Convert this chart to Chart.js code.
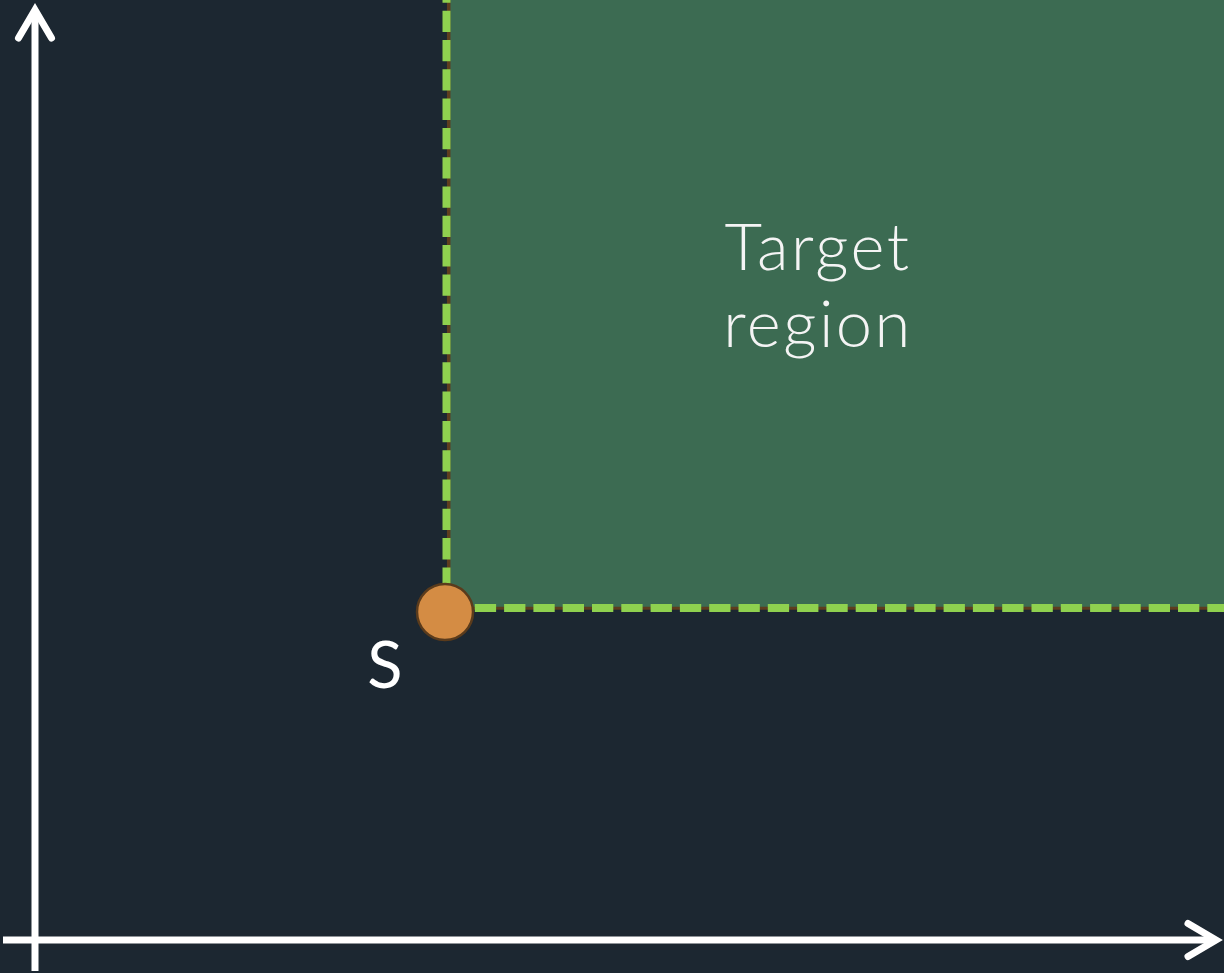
<!DOCTYPE html>
<html>
<head>
<meta charset="utf-8">
<script src="https://cdn.jsdelivr.net/npm/chart.js@4/dist/chart.umd.min.js"></script>
<style>
  html, body { margin: 0; padding: 0; background: #1c2731; }
  #wrap { width: 1224px; height: 973px; }
</style>
</head>
<body>
<div id="wrap"><canvas id="c" width="1224" height="973"></canvas></div>
<script>
// ---- data (chart units) ----
const pointS = [[4.10, 3.28]];
const regionEdge = [[4.137, 3.317], [11.95, 3.317]];
const regionSide = [[4.137, 3.317], [4.137, 9.45]];
const boundaryVertical = [[4.115, 3.32], [4.115, 9.45]];
const boundaryHorizontal = [[4.115, 3.32], [11.95, 3.32]];
const xAxisLine = [[-0.32, 0], [11.81, 0]];
const yAxisLine = [[0, -0.31], [0, 9.30]];
const xArrow = [[11.53, 0.165], [11.81, 0], [11.53, -0.165]];
const yArrow = [[-0.165, 9.02], [0, 9.30], [0.165, 9.02]];
const regionLabel = ['Target', 'region'];
const regionLabelPos = [[7.83, 6.70], [7.83, 5.93]];
const pointLabel = 'S';
const pointLabelPos = [3.50, 2.52];
const xRange = [-0.35, 11.89];
const yRange = [-0.33, 9.40];

const toXY = arr => arr.map(p => ({ x: p[0], y: p[1] }));

const textPlugin = {
  id: 'texts',
  afterDatasetsDraw(chart) {
    const ctx = chart.ctx, xs = chart.scales.x, ys = chart.scales.y;
    ctx.save();
    ctx.fillStyle = '#f4f4f4';
    ctx.textAlign = 'center';
    ctx.textBaseline = 'alphabetic';
    ctx.font = '300 65px Lato, "Open Sans", sans-serif';
    try { ctx.letterSpacing = '2.5px'; } catch (e) {}
    regionLabel.forEach((t, i) => {
      ctx.fillText(t, xs.getPixelForValue(regionLabelPos[i][0]), ys.getPixelForValue(regionLabelPos[i][1]));
    });
    try { ctx.letterSpacing = '0px'; } catch (e) {}
    ctx.fillStyle = '#ffffff';
    ctx.font = '400 65px Lato, "Open Sans", sans-serif';
    ctx.fillText(pointLabel, xs.getPixelForValue(pointLabelPos[0]), ys.getPixelForValue(pointLabelPos[1]));
    ctx.restore();
  }
};

const lineDs = (data, color, width, order, extra) => Object.assign({
  data: toXY(data), showLine: true, borderColor: color, borderWidth: width,
  pointRadius: 0, pointHoverRadius: 0, fill: false, order: order
}, extra || {});

new Chart(document.getElementById('c'), {
  type: 'scatter',
  data: {
    datasets: [
      { data: toXY(pointS), pointRadius: 28, pointHoverRadius: 28, backgroundColor: '#d48c44',
        borderColor: '#5a3b1c', borderWidth: 2.5, order: 0 },
      lineDs(boundaryVertical, '#8fd14f', 8, 1, { borderDash: [21.3, 8], borderDashOffset: 10 }),
      lineDs(boundaryHorizontal, '#8fd14f', 8, 1, { borderDash: [21.3, 8], borderDashOffset: 1 }),
      lineDs(regionSide, '#5e3d1e', 3.5, 2),
      lineDs(regionEdge, '#5e3d1e', 3, 3, { fill: 'end', backgroundColor: '#3c6b52' }),
      lineDs(xAxisLine, '#ffffff', 7, 4),
      lineDs(yAxisLine, '#ffffff', 7, 4),
      lineDs(xArrow, '#ffffff', 7, 4, { borderCapStyle: 'round', borderJoinStyle: 'miter' }),
      lineDs(yArrow, '#ffffff', 7, 4, { borderCapStyle: 'round', borderJoinStyle: 'miter' })
    ]
  },
  options: {
    responsive: false,
    animation: false,
    devicePixelRatio: 1,
    layout: { padding: 0, autoPadding: false },
    plugins: { legend: { display: false }, tooltip: { enabled: false } },
    events: [],
    scales: {
      x: { type: 'linear', min: xRange[0], max: xRange[1], display: false },
      y: { type: 'linear', min: yRange[0], max: yRange[1], display: false }
    }
  },
  plugins: [textPlugin]
});
</script>
</body>
</html>
